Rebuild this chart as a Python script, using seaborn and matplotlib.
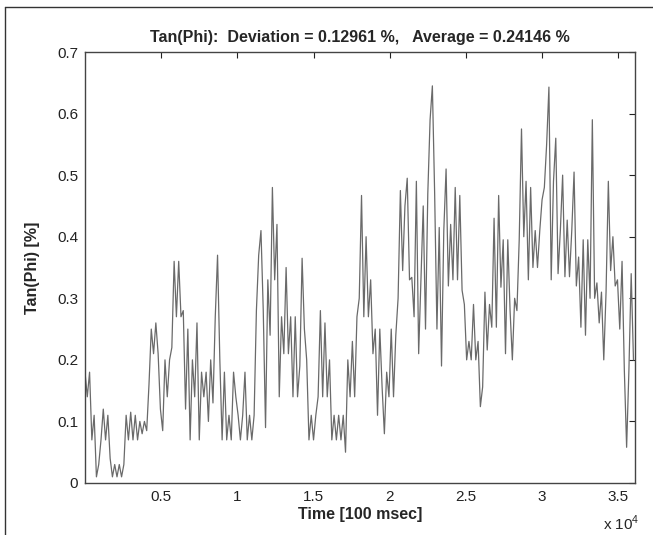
import numpy as np
import pandas as pd
import matplotlib
matplotlib.use("Agg")
import matplotlib.pyplot as plt
import seaborn as sns
from matplotlib.lines import Line2D

# sample spacing of the trace (time units of 100 msec)
step = 150
# Tan(Phi) [%] values, one per sample
tan_phi = [
    0.18, 0.14, 0.18, 0.07, 0.11, 0.01, 0.03, 0.07, 0.12, 0.07,
    0.11, 0.04, 0.01, 0.03, 0.01, 0.03, 0.01, 0.03, 0.11, 0.07,
    0.115, 0.07, 0.11, 0.07, 0.10, 0.08, 0.10, 0.085, 0.16, 0.25,
    0.21, 0.26, 0.21, 0.12, 0.085, 0.20, 0.14, 0.20, 0.22, 0.36,
    0.27, 0.36, 0.27, 0.28, 0.12, 0.25, 0.07, 0.20, 0.14, 0.26,
    0.07, 0.18, 0.14, 0.18, 0.10, 0.20, 0.13, 0.27, 0.37, 0.20,
    0.07, 0.18, 0.07, 0.11, 0.07, 0.18, 0.14, 0.11, 0.07, 0.11,
    0.18, 0.07, 0.11, 0.07, 0.11, 0.28, 0.37, 0.41, 0.28, 0.09,
    0.33, 0.24, 0.48, 0.33, 0.42, 0.14, 0.27, 0.21, 0.35, 0.21,
    0.27, 0.14, 0.27, 0.14, 0.19, 0.365, 0.25, 0.20, 0.07, 0.11,
    0.07, 0.11, 0.14, 0.28, 0.14, 0.26, 0.14, 0.20, 0.07, 0.11,
    0.07, 0.11, 0.07, 0.11, 0.05, 0.20, 0.14, 0.23, 0.14, 0.27,
    0.30, 0.467, 0.27, 0.40, 0.27, 0.33, 0.21, 0.25, 0.11, 0.25,
    0.156, 0.08, 0.18, 0.14, 0.25, 0.14, 0.24, 0.30, 0.475, 0.345,
    0.45, 0.495, 0.33, 0.334, 0.27, 0.49, 0.21, 0.33, 0.45, 0.25,
    0.47, 0.59, 0.645, 0.47, 0.25, 0.415, 0.19, 0.41, 0.51, 0.32,
    0.42, 0.33, 0.48, 0.33, 0.467, 0.313, 0.29, 0.20, 0.23, 0.20,
    0.29, 0.20, 0.23, 0.124, 0.156, 0.31, 0.216, 0.29, 0.253, 0.43,
    0.253, 0.467, 0.318, 0.395, 0.21, 0.395, 0.28, 0.20, 0.30, 0.28,
    0.395, 0.575, 0.40, 0.49, 0.33, 0.48, 0.35, 0.41, 0.35, 0.41,
    0.46, 0.48, 0.55, 0.643, 0.33, 0.49, 0.56, 0.34, 0.41, 0.50,
    0.335, 0.427, 0.335, 0.41, 0.505, 0.32, 0.367, 0.253, 0.395, 0.24,
    0.395, 0.30, 0.59, 0.30, 0.325, 0.26, 0.31, 0.20, 0.31, 0.49,
    0.345, 0.40, 0.32, 0.33, 0.25, 0.36, 0.183, 0.058, 0.183, 0.34,
    0.20,
]
time = np.arange(len(tan_phi)) * step

x_ticks = [5000, 10000, 15000, 20000, 25000, 30000, 35000]
x_tick_labels = ["0.5", "1", "1.5", "2", "2.5", "3", "3.5"]
y_ticks = [0, 0.1, 0.2, 0.3, 0.4, 0.5, 0.6, 0.7]
y_tick_labels = ["0", "0.1", "0.2", "0.3", "0.4", "0.5", "0.6", "0.7"]

sns.set_style("white")
plt.rcParams["font.family"] = ["Liberation Sans", "DejaVu Sans"]

W, H = 653, 535
fig = plt.figure(figsize=(W / 100, H / 100), dpi=100)
ax = fig.add_axes([85 / W, (H - 483) / H, 550 / W, 431 / H])

df = pd.DataFrame({"t": time, "v": tan_phi})
sns.lineplot(data=df, x="t", y="v", ax=ax, color="#6a6a6a", linewidth=0.9)

ax.set_xlim(0, 36100)
ax.set_ylim(0, 0.7)
ax.set_xticks(x_ticks)
ax.set_xticklabels(x_tick_labels)
ax.set_yticks(y_ticks)
ax.set_yticklabels(y_tick_labels)
ax.tick_params(direction="in", length=4, width=0.8, top=True, right=True,
               labelsize=11, colors="#222222", pad=5)
for s in ax.spines.values():
    s.set_color("#444444")
    s.set_linewidth(1)

ax.set_title("Tan(Phi):  Deviation = 0.12961 %,   Average = 0.24146 %",
             fontsize=11.5, fontweight="bold", pad=7)
ax.set_xlabel("Time [100 msec]", fontsize=11.5, fontweight="bold", labelpad=2)
ax.set_ylabel("Tan(Phi) [%]", fontsize=11.5, fontweight="bold", labelpad=12)
fig.text(640 / W, 1 - 523 / H, "x 10$^{\\mathregular{4}}$", ha="right",
         va="center", fontsize=11)

# outer frame of the original figure
fig.add_artist(Line2D([5 / W, 5 / W], [0, 1 - 7 / H], color="#333333", lw=1))
fig.add_artist(Line2D([5 / W, 1], [1 - 7 / H, 1 - 7 / H], color="#333333", lw=1))

fig.savefig("out.png", dpi=100)
